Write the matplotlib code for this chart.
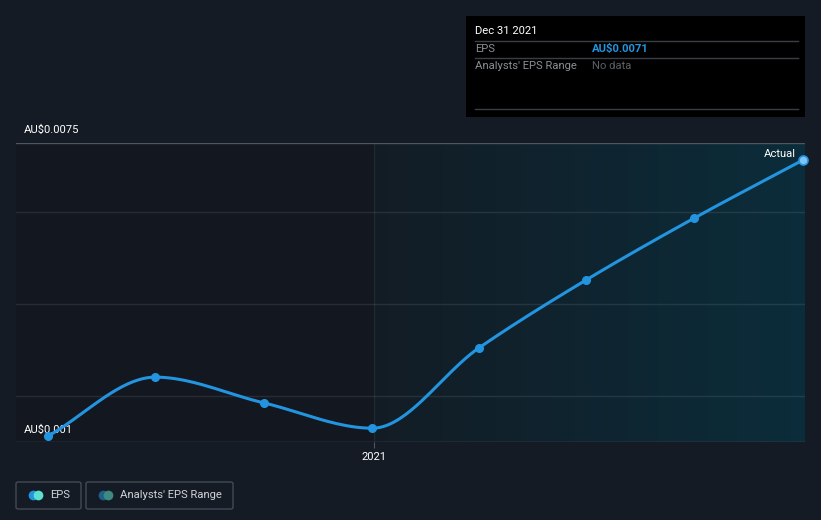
import numpy as np
import matplotlib
matplotlib.use("Agg")
import matplotlib.pyplot as plt
import matplotlib.dates as mdates
from matplotlib.colors import LinearSegmentedColormap
from matplotlib.patches import FancyBboxPatch, Rectangle
from datetime import datetime

plt.rcParams['font.family'] = ['Roboto', 'DejaVu Sans']

# --- DATA ---
dates = ["2020-03-31", "2020-06-30", "2020-09-30", "2020-12-31",
         "2021-03-31", "2021-06-30", "2021-09-30", "2021-12-31"]
eps = [0.00113, 0.00241, 0.00185, 0.00130, 0.00304, 0.00452, 0.00587, 0.00713]
y_min, y_max = 0.001, 0.0075
grid_vals = [0.002, 0.004, 0.006]
forecast_start = "2021-01-01"
tooltip_date = "Dec 31 2021"
tooltip_eps = "AU$0.0071"

BG = "#151b24"
BLUE = "#2394df"
FS = 8.1


def monotone_curve(x, y, n=40):
    """Monotone cubic (Fritsch-Carlson) used only for drawing the smooth line."""
    x = np.asarray(x, float)
    y = np.asarray(y, float)
    h = np.diff(x)
    d = np.diff(y) / h
    m = np.zeros_like(y)
    m[0], m[-1] = d[0], d[-1]
    for i in range(1, len(y) - 1):
        if d[i - 1] * d[i] <= 0:
            m[i] = 0
        else:
            m[i] = 3 * (h[i - 1] + h[i]) / ((2 * h[i] + h[i - 1]) / d[i - 1]
                                            + (h[i] + 2 * h[i - 1]) / d[i])
    xs, ys = [], []
    for i in range(len(h)):
        t = np.linspace(0, 1, n)
        h00 = 2 * t**3 - 3 * t**2 + 1
        h10 = t**3 - 2 * t**2 + t
        h01 = -2 * t**3 + 3 * t**2
        h11 = t**3 - t**2
        xs.append(x[i] + t * h[i])
        ys.append(h00 * y[i] + h10 * h[i] * m[i] + h01 * y[i + 1] + h11 * h[i] * m[i + 1])
    return np.concatenate(xs), np.concatenate(ys)


def fx(px): return px / 821
def fy(py): return 1 - py / 520


xd = mdates.date2num([datetime.strptime(d, "%Y-%m-%d") for d in dates])
px_per_day = (803 - 48) / (xd[-1] - xd[0])
x_left = xd[0] - 32 / px_per_day
x_right = xd[-1] + 2 / px_per_day
fs = mdates.date2num(datetime.strptime(forecast_start, "%Y-%m-%d"))

fig = plt.figure(figsize=(8.21, 5.2), dpi=100)
fig.patch.set_facecolor(BG)
ax = fig.add_axes([16 / 821, 78 / 520, 789 / 821, 299 / 520])
ax.set_facecolor("#13171f")
ax.set_xlim(x_left, x_right)
ax.set_ylim(y_min, y_max)

# shaded "past year" region with horizontal gradient (thin strips)
cmap = LinearSegmentedColormap.from_list("g", ["#121c25", "#0b2c3a"])
edges = np.linspace(fs, x_right, 121)
for i in range(len(edges) - 1):
    ax.axvspan(edges[i], edges[i + 1] + 0.5, color=cmap(i / 119), lw=0, zorder=0.5)
ax.axvline(fs, color="#ffffff", alpha=0.06, lw=1, zorder=1)

for g in grid_vals:
    ax.axhline(g, color="#ffffff", alpha=0.09, lw=1, zorder=1)
ax.axhline(y_max, color="#50565e", lw=1, zorder=1)
ax.axhline(y_min, color="#50565e", lw=1, zorder=1)

xs, ys = monotone_curve(xd, eps)
ax.plot(xs, ys, color=BLUE, lw=2.2, zorder=3, solid_capstyle="round")
ax.plot(xd[:-1], eps[:-1], "o", color=BLUE, ms=5.5, zorder=4)
ax.plot(xd[-1], eps[-1], "o", mfc="#7cc4f4", mec=BLUE, mew=1.2, ms=6.5, zorder=4,
        clip_on=False)

for s in ax.spines.values():
    s.set_visible(False)
ax.set_yticks([])
ax.set_xticks([fs])
ax.set_xticklabels(["2021"], color="#ffffff", fontsize=FS)
ax.tick_params(axis="x", length=4, color="#50565e", pad=3)

# y labels
ax.text(fx(24), fy(130), "AU$0.0075", transform=fig.transFigure,
        color="#ffffff", fontsize=FS, va="center", ha="left")
ax.text(fx(24), fy(430), "AU$0.001", transform=fig.transFigure,
        color="#ffffff", fontsize=FS, va="center", ha="left", zorder=2)
ax.text(fx(796), fy(154), "Actual", transform=fig.transFigure,
        color="#ffffff", fontsize=FS, va="center", ha="right")

# tooltip box
fig.patches.append(Rectangle((fx(466), fy(117)), 339 / 821, 101 / 520,
                             transform=fig.transFigure, facecolor="#000000",
                             edgecolor="none", zorder=5))
fig.text(fx(475), fy(31), tooltip_date, color="#ffffff", fontsize=FS,
         va="center", zorder=6)
for ly in (41, 58, 109):
    fig.add_artist(plt.Line2D([fx(475), fx(798)], [fy(ly), fy(ly)],
                              color="#3a3f45", lw=1, zorder=6))
fig.text(fx(475), fy(48.5), "EPS", color="#8a8f95", fontsize=FS, va="center", zorder=6)
fig.text(fx(592), fy(48.5), tooltip_eps, color=BLUE, fontsize=FS,
         fontweight="bold", va="center", zorder=6)
fig.text(fx(475), fy(66), "Analysts' EPS Range", color="#8a8f95", fontsize=FS,
         va="center", zorder=6)
fig.text(fx(592), fy(66), "No data", color="#5b6066", fontsize=FS,
         va="center", zorder=6)


# legend boxes
def legend_box(x0, x1, c1, c2, label):
    fig.patches.append(FancyBboxPatch((fx(x0), fy(509)), fx(x1 - x0), 27 / 520,
                                      boxstyle="round,pad=0,rounding_size=0.003",
                                      transform=fig.transFigure, facecolor="none",
                                      edgecolor="#444a52", lw=1))
    fig.add_artist(plt.Line2D([fx(x0 + 17)], [fy(495)], marker="o", ms=7,
                              color=c1, mec="none"))
    fig.add_artist(plt.Line2D([fx(x0 + 22)], [fy(495)], marker="o", ms=7,
                              color=c2, mec="none"))
    fig.text(fx(x0 + 34), fy(495), label, color="#d0d3d6", fontsize=FS, va="center")


legend_box(16, 81, BLUE, "#5ce0d0", "EPS")
legend_box(86, 233, "#1f5f8a", "#3e8a80", "Analysts' EPS Range")

fig.savefig("out.png", dpi=100, facecolor=BG)
